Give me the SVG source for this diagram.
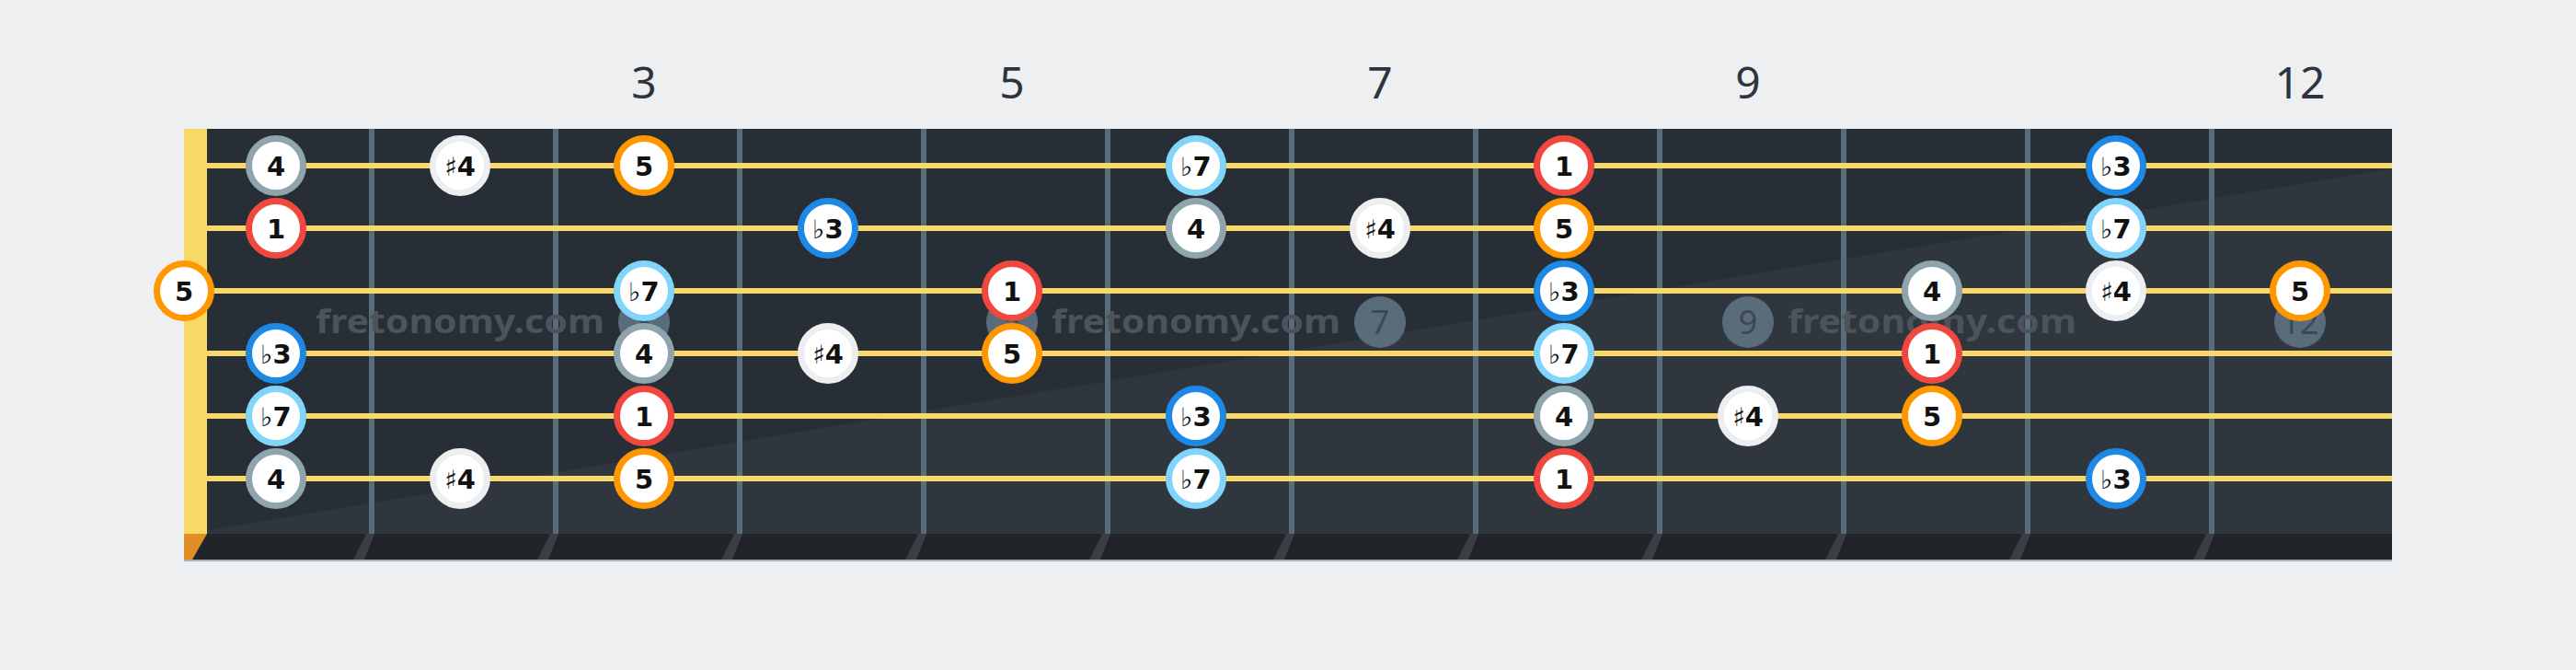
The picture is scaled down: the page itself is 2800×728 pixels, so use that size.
<svg xmlns="http://www.w3.org/2000/svg" width="2800" height="728" viewBox="0 0 2800 728">
<style>
.str{stroke:#f8d866;stroke-width:6}
.fret{fill:#5a6b7a}
.fs{fill:#3a3f45}
.mk circle{fill:#5a6b7a}
.mk text{font-family:"Noto Sans","DejaVu Sans",sans-serif;font-size:36px;fill:#3d4853;text-anchor:middle}
.wm{font-family:"Noto Sans","DejaVu Sans",sans-serif;font-weight:700;font-size:36px;fill:#4c535b}
.fn{font-family:"Noto Sans","DejaVu Sans",sans-serif;font-size:48px;fill:#2c3440;text-anchor:middle}
.n circle{fill:#fff;stroke-width:7}
.n text{font-family:"DejaVu Sans",sans-serif;font-weight:700;font-size:29px;fill:#111;text-anchor:middle}
.fl{font-family:"DejaVu Sans",sans-serif;font-weight:400;font-size:28px}
.c1 circle{stroke:#f0483e}
.c5 circle{stroke:#ff9800}
.cb3 circle{stroke:#1e88e5}
.cb7 circle{stroke:#81d4fa}
.c4 circle{stroke:#90a4ae}
.cs4 circle{stroke:#eceef0}
</style>
<rect width="2800" height="728" fill="#edeff1"/>
<g id="fret-numbers">
<text class="fn" x="700" y="107">3</text>
<text class="fn" x="1100" y="107">5</text>
<text class="fn" x="1500" y="107">7</text>
<text class="fn" x="1900" y="107">9</text>
<text class="fn" x="2500" y="107">12</text>
</g>
<g id="board">
<rect x="200" y="140" width="2400" height="440" fill="#282e36"/>
<polygon points="225,576 2600,183 2600,580 225,580" fill="#30363e"/>
<rect x="200" y="580" width="2400" height="28" fill="#212529"/>
<rect x="200" y="608" width="2400" height="2" fill="#a9b1b9"/>
<g id="frets">
<rect class="fret" x="401" y="140" width="6" height="440"/>
<rect class="fret" x="601" y="140" width="6" height="440"/>
<rect class="fret" x="801" y="140" width="6" height="440"/>
<rect class="fret" x="1001" y="140" width="6" height="440"/>
<rect class="fret" x="1201" y="140" width="6" height="440"/>
<rect class="fret" x="1401" y="140" width="6" height="440"/>
<rect class="fret" x="1601" y="140" width="6" height="440"/>
<rect class="fret" x="1801" y="140" width="6" height="440"/>
<rect class="fret" x="2001" y="140" width="6" height="440"/>
<rect class="fret" x="2201" y="140" width="6" height="440"/>
<rect class="fret" x="2401" y="140" width="6" height="440"/>
<polygon class="fs" points="398,580 407,580 396,608 384,608"/>
<polygon class="fs" points="598,580 607,580 596,608 584,608"/>
<polygon class="fs" points="798,580 807,580 796,608 784,608"/>
<polygon class="fs" points="998,580 1007,580 996,608 984,608"/>
<polygon class="fs" points="1198,580 1207,580 1196,608 1184,608"/>
<polygon class="fs" points="1398,580 1407,580 1396,608 1384,608"/>
<polygon class="fs" points="1598,580 1607,580 1596,608 1584,608"/>
<polygon class="fs" points="1798,580 1807,580 1796,608 1784,608"/>
<polygon class="fs" points="1998,580 2007,580 1996,608 1984,608"/>
<polygon class="fs" points="2198,580 2207,580 2196,608 2184,608"/>
<polygon class="fs" points="2398,580 2407,580 2396,608 2384,608"/>
</g>
<g id="nut">
<rect x="200" y="140" width="25" height="440" fill="#f8d866"/>
<polygon points="200,580 225,580 209,608 200,608" fill="#e08e26"/>
</g>
</g>
<g id="markers" class="mk">
<circle cx="700" cy="350" r="28"/><text x="700" y="363">3</text>
<circle cx="1100" cy="350" r="28"/><text x="1100" y="363">5</text>
<circle cx="1500" cy="350" r="28"/><text x="1500" y="363">7</text>
<circle cx="1900" cy="350" r="28"/><text x="1900" y="363">9</text>
<circle cx="2500" cy="350" r="28"/><text x="2500" y="363">12</text>
</g>
<g id="watermark">
<text class="wm" x="343" y="362" textLength="314" lengthAdjust="spacingAndGlyphs">fretonomy.com</text>
<text class="wm" x="1143" y="362" textLength="314" lengthAdjust="spacingAndGlyphs">fretonomy.com</text>
<text class="wm" x="1943" y="362" textLength="314" lengthAdjust="spacingAndGlyphs">fretonomy.com</text>
</g>
<g id="strings">
<line class="str" x1="225" y1="180" x2="2600" y2="180"/>
<line class="str" x1="225" y1="248" x2="2600" y2="248"/>
<line class="str" x1="225" y1="316" x2="2600" y2="316"/>
<line class="str" x1="225" y1="384" x2="2600" y2="384"/>
<line class="str" x1="225" y1="452" x2="2600" y2="452"/>
<line class="str" x1="225" y1="520" x2="2600" y2="520"/>
</g>
<g id="connectors"/>
<g id="notes">
<g id="s1f1" class="n c4"><circle cx="300" cy="180" r="29.5"/><text x="300" y="190.5">4</text></g>
<g id="s1f2" class="n cs4"><circle cx="500" cy="180" r="29.5"/><text x="500" y="190.5"><tspan class="fl">♯</tspan>4</text></g>
<g id="s1f3" class="n c5"><circle cx="700" cy="180" r="29.5"/><text x="700" y="190.5">5</text></g>
<g id="s1f6" class="n cb7"><circle cx="1300" cy="180" r="29.5"/><text x="1300" y="190.5"><tspan class="fl">♭</tspan>7</text></g>
<g id="s1f8" class="n c1"><circle cx="1700" cy="180" r="29.5"/><text x="1700" y="190.5">1</text></g>
<g id="s1f11" class="n cb3"><circle cx="2300" cy="180" r="29.5"/><text x="2300" y="190.5"><tspan class="fl">♭</tspan>3</text></g>

<g id="s2f1" class="n c1"><circle cx="300" cy="248" r="29.5"/><text x="300" y="258.5">1</text></g>
<g id="s2f4" class="n cb3"><circle cx="900" cy="248" r="29.5"/><text x="900" y="258.5"><tspan class="fl">♭</tspan>3</text></g>
<g id="s2f6" class="n c4"><circle cx="1300" cy="248" r="29.5"/><text x="1300" y="258.5">4</text></g>
<g id="s2f7" class="n cs4"><circle cx="1500" cy="248" r="29.5"/><text x="1500" y="258.5"><tspan class="fl">♯</tspan>4</text></g>
<g id="s2f8" class="n c5"><circle cx="1700" cy="248" r="29.5"/><text x="1700" y="258.5">5</text></g>
<g id="s2f11" class="n cb7"><circle cx="2300" cy="248" r="29.5"/><text x="2300" y="258.5"><tspan class="fl">♭</tspan>7</text></g>

<g id="s3f0" class="n c5"><circle cx="200" cy="316" r="29.5"/><text x="200" y="326.5">5</text></g>
<g id="s3f3" class="n cb7"><circle cx="700" cy="316" r="29.5"/><text x="700" y="326.5"><tspan class="fl">♭</tspan>7</text></g>
<g id="s3f5" class="n c1"><circle cx="1100" cy="316" r="29.5"/><text x="1100" y="326.5">1</text></g>
<g id="s3f8" class="n cb3"><circle cx="1700" cy="316" r="29.5"/><text x="1700" y="326.5"><tspan class="fl">♭</tspan>3</text></g>
<g id="s3f10" class="n c4"><circle cx="2100" cy="316" r="29.5"/><text x="2100" y="326.5">4</text></g>
<g id="s3f11" class="n cs4"><circle cx="2300" cy="316" r="29.5"/><text x="2300" y="326.5"><tspan class="fl">♯</tspan>4</text></g>
<g id="s3f12" class="n c5"><circle cx="2500" cy="316" r="29.5"/><text x="2500" y="326.5">5</text></g>

<g id="s4f1" class="n cb3"><circle cx="300" cy="384" r="29.5"/><text x="300" y="394.5"><tspan class="fl">♭</tspan>3</text></g>
<g id="s4f3" class="n c4"><circle cx="700" cy="384" r="29.5"/><text x="700" y="394.5">4</text></g>
<g id="s4f4" class="n cs4"><circle cx="900" cy="384" r="29.5"/><text x="900" y="394.5"><tspan class="fl">♯</tspan>4</text></g>
<g id="s4f5" class="n c5"><circle cx="1100" cy="384" r="29.5"/><text x="1100" y="394.5">5</text></g>
<g id="s4f8" class="n cb7"><circle cx="1700" cy="384" r="29.5"/><text x="1700" y="394.5"><tspan class="fl">♭</tspan>7</text></g>
<g id="s4f10" class="n c1"><circle cx="2100" cy="384" r="29.5"/><text x="2100" y="394.5">1</text></g>

<g id="s5f1" class="n cb7"><circle cx="300" cy="452" r="29.5"/><text x="300" y="462.5"><tspan class="fl">♭</tspan>7</text></g>
<g id="s5f3" class="n c1"><circle cx="700" cy="452" r="29.5"/><text x="700" y="462.5">1</text></g>
<g id="s5f6" class="n cb3"><circle cx="1300" cy="452" r="29.5"/><text x="1300" y="462.5"><tspan class="fl">♭</tspan>3</text></g>
<g id="s5f8" class="n c4"><circle cx="1700" cy="452" r="29.5"/><text x="1700" y="462.5">4</text></g>
<g id="s5f9" class="n cs4"><circle cx="1900" cy="452" r="29.5"/><text x="1900" y="462.5"><tspan class="fl">♯</tspan>4</text></g>
<g id="s5f10" class="n c5"><circle cx="2100" cy="452" r="29.5"/><text x="2100" y="462.5">5</text></g>

<g id="s6f1" class="n c4"><circle cx="300" cy="520" r="29.5"/><text x="300" y="530.5">4</text></g>
<g id="s6f2" class="n cs4"><circle cx="500" cy="520" r="29.5"/><text x="500" y="530.5"><tspan class="fl">♯</tspan>4</text></g>
<g id="s6f3" class="n c5"><circle cx="700" cy="520" r="29.5"/><text x="700" y="530.5">5</text></g>
<g id="s6f6" class="n cb7"><circle cx="1300" cy="520" r="29.5"/><text x="1300" y="530.5"><tspan class="fl">♭</tspan>7</text></g>
<g id="s6f8" class="n c1"><circle cx="1700" cy="520" r="29.5"/><text x="1700" y="530.5">1</text></g>
<g id="s6f11" class="n cb3"><circle cx="2300" cy="520" r="29.5"/><text x="2300" y="530.5"><tspan class="fl">♭</tspan>3</text></g>
</g>
</svg>
